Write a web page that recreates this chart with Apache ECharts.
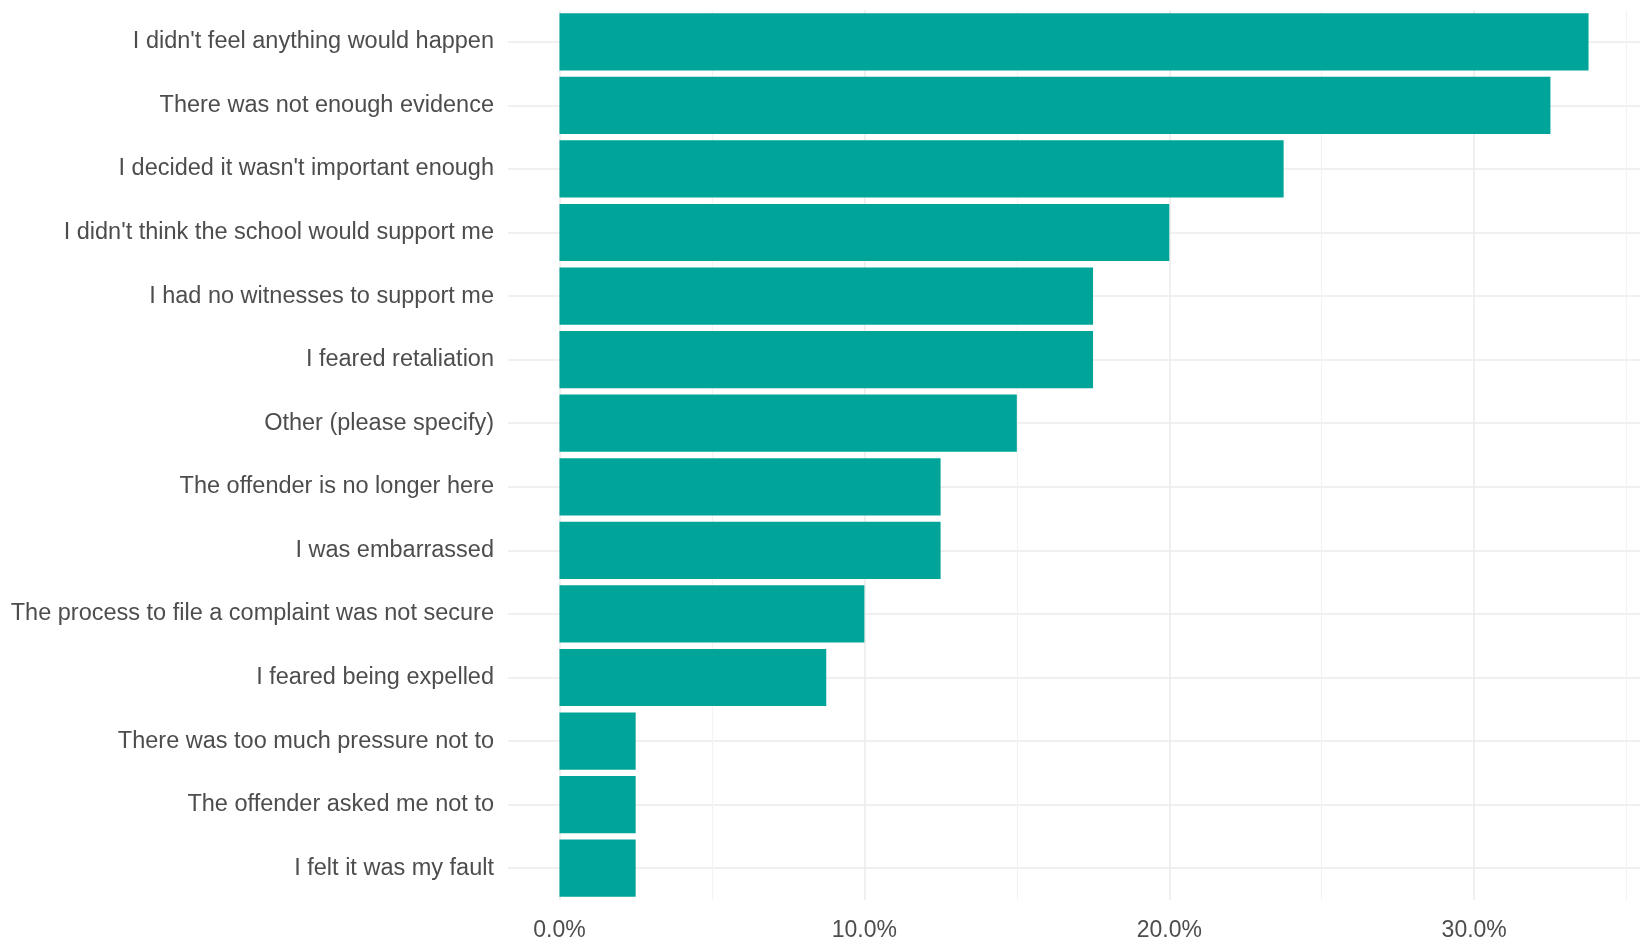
<!DOCTYPE html>
<html>
<head>
<meta charset="utf-8">
<script src="https://cdn.jsdelivr.net/npm/echarts@6/dist/echarts.min.js"></script>
<style>
html,body{margin:0;padding:0;background:#fff;}
#chart{width:1640px;height:944px;}
</style>
</head>
<body>
<div id="chart"></div>
<script>
const categories = [
  "I didn't feel anything would happen",
  "There was not enough evidence",
  "I decided it wasn't important enough",
  "I didn't think the school would support me",
  "I had no witnesses to support me",
  "I feared retaliation",
  "Other (please specify)",
  "The offender is no longer here",
  "I was embarrassed",
  "The process to file a complaint was not secure",
  "I feared being expelled",
  "There was too much pressure not to",
  "The offender asked me not to",
  "I felt it was my fault"
];
const values = [33.75, 32.5, 23.75, 20, 17.5, 17.5, 15, 12.5, 12.5, 10, 8.75, 2.5, 2.5, 2.5];
const majorTicks = [0, 10, 20, 30];
const minorTicks = [5, 15, 25, 35];
const xMin = -1.6875;
const xMax = 35.4375;

const chart = echarts.init(document.getElementById('chart'), null, {renderer: 'canvas'});
const font = 'Liberation Sans, Arial, sans-serif';

const gridLines = [];
categories.forEach(c => gridLines.push({yAxis: c, lineStyle: {color: '#EBEBEB', width: 1.5, type: 'solid'}}));
minorTicks.forEach(v => gridLines.push({xAxis: v, lineStyle: {color: '#F3F3F3', width: 1.2, type: 'solid'}}));
majorTicks.forEach(v => gridLines.push({xAxis: v, lineStyle: {color: '#EBEBEB', width: 1.5, type: 'solid'}}));

chart.setOption({
  backgroundColor: '#ffffff',
  animation: false,
  grid: {left: 508, right: -1, top: 10, bottom: 44, containLabel: false},
  xAxis: {
    type: 'value',
    min: xMin,
    max: xMax,
    axisLine: {show: false},
    axisTick: {show: false},
    splitLine: {show: false},
    axisLabel: {
      customValues: majorTicks,
      formatter: v => v.toFixed(1) + '%',
      color: '#4D4D4D',
      fontSize: 23,
      fontFamily: font,
      margin: 19
    }
  },
  yAxis: {
    type: 'category',
    data: categories,
    inverse: true,
    axisLine: {show: false},
    axisTick: {show: false},
    splitLine: {show: false},
    axisLabel: {
      color: '#4D4D4D',
      fontSize: 23.5,
      fontFamily: font,
      margin: 14
    }
  },
  series: [
    {
      type: 'line',
      data: [],
      z: 0,
      silent: true,
      markLine: {
        silent: true,
        z: 0,
        symbol: ['none', 'none'],
        label: {show: false},
        animation: false,
        data: gridLines
      }
    },
    {
      type: 'bar',
      data: values,
      z: 10,
      barCategoryGap: '10%',
      itemStyle: {color: '#00A499'}
    }
  ]
});
</script>
</body>
</html>
